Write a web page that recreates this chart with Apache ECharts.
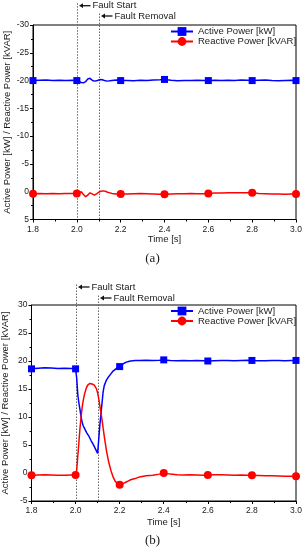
<!DOCTYPE html>
<html><head><meta charset="utf-8">
<script src="https://cdn.jsdelivr.net/npm/echarts@6/dist/echarts.min.js"></script>
<style>html,body{margin:0;padding:0;background:#fff}#c{width:305px;height:550px}</style>
</head><body><div id="c"></div>
<script>
// ---------- data ----------
const seriesNames = ['Active Power [kW]', 'Reactive Power [kVAR]'];
const markerTimes = [1.8, 2.0, 2.2, 2.4, 2.6, 2.8, 3.0];
const xTickRange = [1.8, 3.0];
const yRangeA = [-30, 5];
const yRangeB = [-5, 30];
const faultTimes = [2.0, 2.1];
const faultLabels = ['Fault Start', 'Fault Removal'];
const panelLabels = ['(a)', '(b)'];

const timeA = [1.80,1.83,1.86,1.89,1.92,1.95,1.98,2.00,2.01,2.02,2.03,2.04,2.05,2.06,2.07,2.08,2.09,2.10,2.11,2.12,2.13,2.14,2.16,2.18,2.20,2.23,2.26,2.29,2.32,2.35,2.38,2.40,2.43,2.46,2.49,2.52,2.55,2.58,2.60,2.63,2.66,2.69,2.72,2.75,2.78,2.80,2.83,2.86,2.89,2.92,2.95,2.98,3.00];
const activeA = [-20.0,-20.05,-20.1,-20.0,-20.05,-20.0,-20.05,-20.0,-19.85,-19.65,-19.6,-19.8,-20.3,-20.4,-20.05,-19.9,-19.95,-20.1,-20.2,-20.1,-19.95,-19.9,-20.0,-20.1,-20.0,-20.0,-19.95,-20.05,-20.0,-20.1,-20.15,-20.2,-20.05,-19.95,-20.0,-20.0,-20.05,-20.0,-20.0,-20.05,-20.0,-20.05,-20.0,-20.1,-20.05,-20.0,-20.05,-20.1,-20.0,-19.95,-20.0,-20.05,-20.0];
const reactiveA = [0.35,0.3,0.35,0.3,0.35,0.3,0.3,0.3,0.2,0.0,0.5,0.9,0.6,0.2,0.4,0.6,0.4,0.1,-0.1,-0.15,-0.1,0.1,0.3,0.4,0.4,0.4,0.35,0.3,0.35,0.4,0.45,0.45,0.4,0.35,0.35,0.3,0.35,0.35,0.3,0.25,0.25,0.2,0.2,0.2,0.2,0.2,0.3,0.35,0.4,0.4,0.45,0.4,0.4];

const timeB = [1.80,1.83,1.86,1.89,1.92,1.95,1.98,2.00,2.005,2.01,2.015,2.02,2.025,2.03,2.035,2.04,2.045,2.05,2.055,2.06,2.065,2.07,2.075,2.08,2.085,2.09,2.095,2.10,2.105,2.11,2.115,2.12,2.125,2.13,2.14,2.15,2.16,2.17,2.18,2.19,2.20,2.21,2.22,2.23,2.24,2.25,2.27,2.29,2.32,2.35,2.38,2.40,2.43,2.46,2.49,2.52,2.55,2.58,2.60,2.63,2.66,2.69,2.72,2.75,2.78,2.80,2.83,2.86,2.89,2.92,2.95,2.98,3.00];
const activeB = [18.6,18.7,18.8,18.75,18.65,18.7,18.65,18.6,17.0,14.0,12.5,11.3,10.0,9.0,8.4,8.0,7.6,7.2,6.9,6.6,6.2,5.8,5.5,5.1,4.7,4.3,3.9,3.5,6.0,8.5,10.5,12.5,14.5,15.6,16.6,17.2,17.7,18.2,18.5,18.8,19.0,19.3,19.6,19.8,19.9,20.0,20.1,20.1,20.15,20.1,20.15,20.2,20.1,20.05,20.1,20.05,20.1,20.05,20.0,20.05,20.1,20.1,20.05,20.1,20.15,20.1,20.05,20.05,20.1,20.1,20.05,20.1,20.1];
const reactiveB = [-0.4,-0.35,-0.3,-0.35,-0.4,-0.4,-0.35,-0.35,0.5,3.0,5.5,8.0,10.0,11.8,13.0,14.0,14.7,15.3,15.7,15.9,16.0,16.0,15.9,15.8,15.7,15.5,15.0,14.3,13.3,12.0,10.8,9.5,8.0,6.6,4.0,2.0,0.5,-0.7,-1.5,-1.9,-2.1,-2.0,-1.8,-1.6,-1.4,-1.2,-1.0,-0.7,-0.5,-0.4,-0.2,0.0,-0.2,-0.3,-0.35,-0.3,-0.35,-0.4,-0.35,-0.3,-0.3,-0.35,-0.4,-0.35,-0.4,-0.4,-0.45,-0.5,-0.5,-0.55,-0.6,-0.6,-0.6];

// ---------- chart ----------
const FONT = 'Liberation Sans';
const TXT = '#1a1a1a';
const BLUE = '#0000ff', RED = '#ff0000';

function build(t, v) {
  return t.map((x, i) => markerTimes.some(m => Math.abs(m - x) < 1e-6)
    ? [x, v[i]] : { value: [x, v[i]], symbol: 'none' });
}

function xAx(gi, gap) {
  return {
    type: 'value', gridIndex: gi, min: xTickRange[0], max: xTickRange[1], interval: 0.2,
    name: 'Time [s]', nameLocation: 'middle', nameGap: gap, nameMoveOverlap: false,
    nameTextStyle: { fontFamily: FONT, fontSize: 9.5, color: TXT },
    axisLine: { onZero: false, lineStyle: { color: '#000', width: 1 } },
    axisTick: { length: 3, lineStyle: { color: '#000' } },
    minorTick: { show: true, splitNumber: 2, length: 2, lineStyle: { color: '#000' } },
    splitLine: { show: false },
    axisLabel: { interval: 0, hideOverlap: false, formatter: v => v.toFixed(1), fontFamily: FONT, fontSize: 8.5, color: TXT, margin: 5.5 }
  };
}
function yAx(gi, range, inverse) {
  return {
    type: 'value', gridIndex: gi, min: range[0], max: range[1], interval: 5, inverse: inverse,
    name: 'Active Power [kW] / Reactive Power [kVAR]', nameLocation: 'middle', nameGap: 21, nameMoveOverlap: false,
    nameTextStyle: { fontFamily: FONT, fontSize: 9.5, color: TXT },
    axisLine: { onZero: false, lineStyle: { color: '#000', width: 1 } },
    axisTick: { length: 3, lineStyle: { color: '#000' } },
    minorTick: { show: true, splitNumber: 2, length: 2, lineStyle: { color: '#000' } },
    splitLine: { show: false },
    axisLabel: { interval: 0, hideOverlap: false, fontFamily: FONT, fontSize: 8.5, color: TXT, margin: 4 }
  };
}
function ser(name, gi, t, v, color, sym, size) {
  return {
    name, type: 'line', xAxisIndex: gi, yAxisIndex: gi, data: build(t, v),
    symbol: sym, symbolSize: size, showAllSymbol: true, showSymbol: true,
    lineStyle: { color, width: 1.5 }, itemStyle: { color },
    animation: false, silent: true, emphasis: { disabled: true }
  };
}
function leg(top) {
  return {
    data: seriesNames, orient: 'vertical', left: 170, top: top, padding: 0,
    itemWidth: 22, itemHeight: 11, itemGap: 0, selectedMode: false,
    textStyle: { fontFamily: FONT, fontSize: 9.5, color: TXT }
  };
}

const chart = echarts.init(document.getElementById('c'), null, { renderer: 'canvas' });
chart.setOption({
  animation: false,
  backgroundColor: '#fff',
  grid: [
    { left: 33, right: 9, top: 25, height: 194.5, show: true, borderColor: '#000', borderWidth: 1, containLabel: false, outerBoundsMode: 'none' },
    { left: 31.5, right: 9, top: 305, height: 196, show: true, borderColor: '#000', borderWidth: 1, containLabel: false, outerBoundsMode: 'none' }
  ],
  xAxis: [xAx(0, 15), xAx(1, 16)],
  yAxis: [yAx(0, yRangeA, true), yAx(1, yRangeB, false)],
  legend: [leg(26.5), leg(306)],
  title: [
    { text: panelLabels[0], left: 'center', top: 252, padding: 0, textStyle: { fontFamily: 'Liberation Serif', fontSize: 13, fontWeight: 'normal', color: TXT } },
    { text: panelLabels[1], left: 'center', top: 534.5, padding: 0, textStyle: { fontFamily: 'Liberation Serif', fontSize: 13, fontWeight: 'normal', color: TXT } }
  ],
  series: [
    ser(seriesNames[0], 0, timeA, activeA, BLUE, 'rect', 7),
    ser(seriesNames[1], 0, timeA, reactiveA, RED, 'circle', 8),
    ser(seriesNames[0], 1, timeB, activeB, BLUE, 'rect', 7),
    ser(seriesNames[1], 1, timeB, reactiveB, RED, 'circle', 8)
  ]
});

// annotations: dotted fault lines with arrows & labels, positioned via the axes
const gfx = [];
const cfg = [
  { gi: 0, topVal: yRangeA[0], botVal: yRangeA[1], offs: [-19.3, -9] },
  { gi: 1, topVal: yRangeB[1], botVal: yRangeB[0], offs: [-18, -7] }
];
cfg.forEach(c => {
  faultTimes.forEach((ft, k) => {
    const pTop = chart.convertToPixel({ gridIndex: c.gi }, [ft, c.topVal]);
    const pBot = chart.convertToPixel({ gridIndex: c.gi }, [ft, c.botVal]);
    const x = Math.round(pTop[0]) + 0.5;
    const ty = pTop[1] + c.offs[k];
    gfx.push({ type: 'line', silent: true, shape: { x1: x, y1: ty - 2.5, x2: x, y2: pBot[1] },
      style: { stroke: '#666', lineWidth: 1, lineDash: [1.5, 1.5] } });
    gfx.push({ type: 'line', silent: true, shape: { x1: x + 4, y1: ty, x2: x + 13, y2: ty },
      style: { stroke: '#111', lineWidth: 1.3 } });
    gfx.push({ type: 'polygon', silent: true, shape: { points: [[x + 1.5, ty], [x + 5.5, ty - 2.4], [x + 5.5, ty + 2.4]] },
      style: { fill: '#111' } });
    gfx.push({ type: 'text', silent: true, x: x + 15, y: ty,
      style: { text: faultLabels[k], fontFamily: FONT, fontSize: 9.5, fill: TXT, verticalAlign: 'middle', align: 'left' } });
  });
});
chart.setOption({ graphic: gfx });
</script></body></html>
